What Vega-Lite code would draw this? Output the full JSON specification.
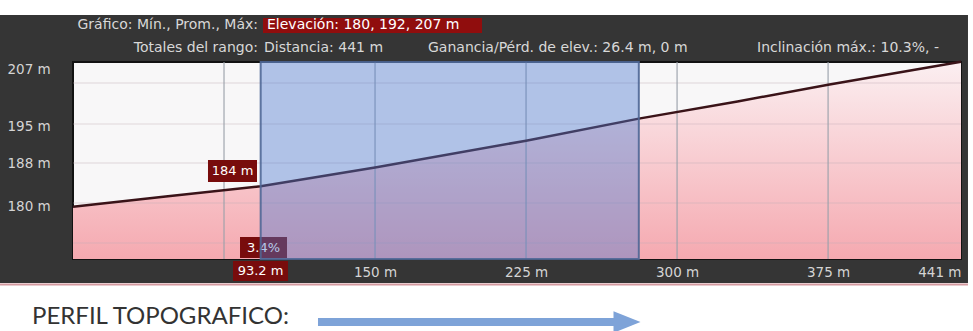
{
  "$schema": "https://vega.github.io/schema/vega-lite/v6.json",
  "width": 888,
  "height": 197,
  "autosize": {"type": "none"},
  "padding": {"left": 73, "top": 62, "right": 12, "bottom": 72},
  "background": "white",
  "config": {"view": {"stroke": null}, "font": "DejaVu Sans"},
  "datasets": {
    "profile": [
      {"distance": 0, "elevation": 180.0},
      {"distance": 46, "elevation": 181.9},
      {"distance": 93.2, "elevation": 183.8},
      {"distance": 150, "elevation": 187.3},
      {"distance": 225, "elevation": 192.3},
      {"distance": 281, "elevation": 196.4},
      {"distance": 330, "elevation": 199.6},
      {"distance": 375, "elevation": 202.7},
      {"distance": 441, "elevation": 207.0}
    ],
    "range": [{"from": 93.2, "to": 281.0}],
    "vgrid": [{"distance": 75}, {"distance": 150}, {"distance": 225}, {"distance": 300}, {"distance": 375}],
    "hgrid": [{"elevation": 173.24}, {"elevation": 180.69}, {"elevation": 188.14}, {"elevation": 195.4}, {"elevation": 203.04}],
    "one": [{}]
  },
  "layer": [
    {
      "data": {"name": "one"},
      "mark": {"type": "rect", "fill": "#353535"},
      "encoding": {
        "x": {"datum": -36.25, "type": "quantitative", "scale": {"domain": [0, 441], "nice": false, "zero": false}},
        "x2": {"datum": 444.47},
        "y": {"datum": 215.7, "type": "quantitative", "scale": {"domain": [170.26, 206.95], "nice": false, "zero": false}},
        "y2": {"datum": 165.79}
      }
    },
    {
      "data": {"name": "one"},
      "mark": {"type": "rule", "stroke": "#d49aa0", "strokeWidth": 2},
      "encoding": {"x": {"datum": -36.25}, "x2": {"datum": 444.47}, "y": {"datum": 165.5}}
    },
    {
      "data": {"name": "one"},
      "mark": {"type": "rect", "fill": "#f8f7f8", "stroke": "#121212", "strokeWidth": 2},
      "encoding": {"x": {"datum": 0}, "x2": {"datum": 441}, "y": {"datum": 206.95}, "y2": {"datum": 170.26}}
    },
    {
      "data": {"name": "profile"},
      "mark": {
        "type": "area",
        "fill": {"gradient": "linear", "x1": 0, "y1": 0, "x2": 0, "y2": 1, "stops": [{"offset": 0, "color": "#fbeff1"}, {"offset": 1, "color": "#f5a9b0"}]}
      },
      "encoding": {"x": {"field": "distance", "type": "quantitative"}, "y": {"field": "elevation", "type": "quantitative"}, "y2": {"datum": 170.26}}
    },
    {
      "data": {"name": "hgrid"},
      "mark": {"type": "rule", "stroke": "#c4b0b5", "strokeWidth": 1, "opacity": 0.45},
      "encoding": {"y": {"field": "elevation", "type": "quantitative"}}
    },
    {
      "data": {"name": "vgrid"},
      "mark": {"type": "rule", "stroke": "#9aa0aa", "strokeWidth": 1.5, "opacity": 0.75},
      "encoding": {"x": {"field": "distance", "type": "quantitative"}}
    },
    {
      "data": {"name": "profile"},
      "mark": {"type": "line", "stroke": "#3a1318", "strokeWidth": 2.5},
      "encoding": {
        "x": {"field": "distance", "type": "quantitative", "axis": {"values": [150, 225, 300, 375, 441], "labelExpr": "datum.value + ' m'", "title": null, "grid": false, "domain": false, "ticks": false, "tickSize": 0, "labelPadding": 13, "labelBaseline": "middle", "labelAlign": {"condition": {"test": "datum.value == 441", "value": "right"}, "value": "center"}, "labelColor": "#d4d4d4", "labelFontSize": 13.5, "labelFont": "DejaVu Sans", "labelFlush": false, "labelOverlap": false, "zindex": 1}},
        "y": {"field": "elevation", "type": "quantitative", "axis": {"values": [180, 188, 195, 206.9], "labelExpr": "round(datum.value) + ' m'", "title": null, "grid": false, "domain": false, "ticks": false, "tickSize": 0, "labelPadding": 66, "labelAlign": "left", "labelBaseline": {"condition": {"test": "datum.value > 206", "value": "top"}, "value": "middle"}, "labelColor": "#d4d4d4", "labelFontSize": 13.5, "labelFont": "DejaVu Sans", "labelFlush": false, "labelOverlap": false, "zindex": 1}}
      }
    },
    {
      "data": {"name": "one"},
      "mark": {"type": "rect", "fill": "#780c0c"},
      "encoding": {"x": {"datum": 82.94}, "x2": {"datum": 106.28}, "y": {"datum": 174.36}, "y2": {"datum": 170.45}}
    },
    {
      "data": {"name": "one"},
      "mark": {"type": "text", "text": "3.4%", "color": "white", "fontSize": 13, "align": "center", "baseline": "middle"},
      "encoding": {"x": {"datum": 94.61}, "y": {"datum": 172.4}}
    },
    {
      "data": {"name": "range"},
      "mark": {"type": "rect", "fill": "#4d7ad0", "fillOpacity": 0.42, "stroke": "#4f6796", "strokeWidth": 2, "strokeOpacity": 0.9},
      "encoding": {"x": {"field": "from", "type": "quantitative"}, "x2": {"field": "to"}, "y": {"datum": 206.95}, "y2": {"datum": 170.26}}
    },
    {
      "data": {"name": "one"},
      "mark": {"type": "rect", "fill": "#780c0c"},
      "encoding": {"x": {"datum": 67.04}, "x2": {"datum": 91.38}, "y": {"datum": 188.7}, "y2": {"datum": 184.6}}
    },
    {
      "data": {"name": "one"},
      "mark": {"type": "text", "text": "184 m", "color": "white", "fontSize": 13, "align": "center", "baseline": "middle"},
      "encoding": {"x": {"datum": 79.21}, "y": {"datum": 186.65}}
    },
    {
      "data": {"name": "one"},
      "mark": {"type": "rect", "fill": "#780c0c"},
      "encoding": {"x": {"datum": 79.46}, "x2": {"datum": 106.78}, "y": {"datum": 169.89}, "y2": {"datum": 166.16}}
    },
    {
      "data": {"name": "one"},
      "mark": {"type": "text", "text": "93.2 m", "color": "white", "fontSize": 13, "align": "center", "baseline": "middle"},
      "encoding": {"x": {"datum": 93.12}, "y": {"datum": 168.03}}
    },
    {
      "data": {"name": "one"},
      "mark": {"type": "rect", "fill": "#900d0d"},
      "encoding": {"x": {"datum": 94.36}, "x2": {"datum": 203.12}, "y": {"datum": 215.15}, "y2": {"datum": 212.35}}
    },
    {
      "data": {"name": "one"},
      "mark": {"type": "text", "text": "Gráfico: Mín., Prom., Máx:", "color": "#d8d8d8", "fontSize": 14, "align": "right", "baseline": "middle"},
      "encoding": {"x": {"datum": 91.87}, "y": {"datum": 213.75}}
    },
    {
      "data": {"name": "one"},
      "mark": {"type": "text", "text": "Elevación: 180, 192, 207 m", "color": "#ffffff", "fontSize": 14, "align": "left", "baseline": "middle"},
      "encoding": {"x": {"datum": 96.35}, "y": {"datum": 213.75}}
    },
    {
      "data": {"name": "one"},
      "mark": {"type": "text", "text": "Totales del rango:", "color": "#d8d8d8", "fontSize": 14, "align": "right", "baseline": "middle"},
      "encoding": {"x": {"datum": 91.87}, "y": {"datum": 209.65}}
    },
    {
      "data": {"name": "one"},
      "mark": {"type": "text", "text": "Distancia: 441 m", "color": "#d8d8d8", "fontSize": 14, "align": "left", "baseline": "middle"},
      "encoding": {"x": {"datum": 94.85}, "y": {"datum": 209.65}}
    },
    {
      "data": {"name": "one"},
      "mark": {"type": "text", "text": "Ganancia/Pérd. de elev.: 26.4 m, 0 m", "color": "#d8d8d8", "fontSize": 14, "align": "left", "baseline": "middle"},
      "encoding": {"x": {"datum": 176.3}, "y": {"datum": 209.65}}
    },
    {
      "data": {"name": "one"},
      "mark": {"type": "text", "text": "Inclinación máx.: 10.3%, -", "color": "#d8d8d8", "fontSize": 14, "align": "left", "baseline": "middle"},
      "encoding": {"x": {"datum": 339.69}, "y": {"datum": 209.65}}
    },
    {
      "data": {"name": "one"},
      "mark": {"type": "text", "text": "PERFIL TOPOGRAFICO:", "color": "#333333", "font": "Lato", "fontSize": 24, "align": "left", "baseline": "middle"},
      "encoding": {"x": {"datum": -20.36}, "y": {"datum": 159.55}}
    },
    {
      "data": {"name": "one"},
      "mark": {"type": "rule", "stroke": "#7ea3d8", "strokeWidth": 8},
      "encoding": {"x": {"datum": 121.67}, "x2": {"datum": 269.17}, "y": {"datum": 158.52}}
    },
    {
      "data": {"name": "one"},
      "mark": {"type": "point", "shape": "M -1,-0.8 L 1,0 L -1,0.8 Z", "filled": true, "size": 729, "color": "#7ea3d8", "opacity": 1},
      "encoding": {"x": {"datum": 275.13}, "y": {"datum": 158.52}}
    }
  ]
}
